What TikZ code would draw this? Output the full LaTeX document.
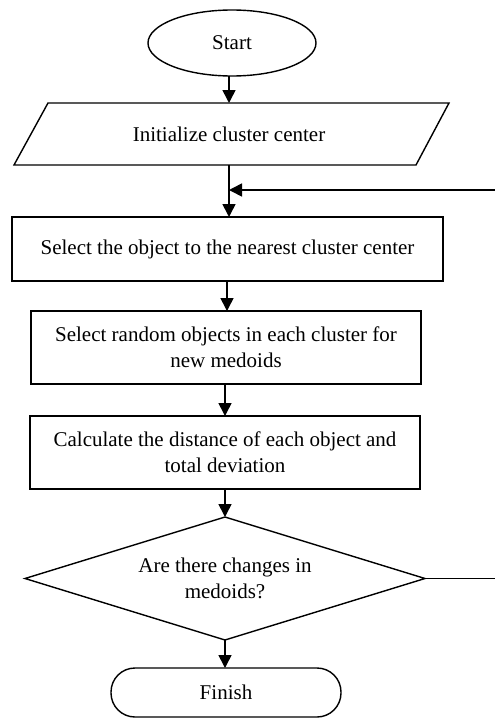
\documentclass[tikz,border=0pt]{standalone}
\usepackage{fontspec}
\setmainfont{Liberation Serif}
\usetikzlibrary{shapes.geometric,arrows.meta}
\begin{document}
\begin{tikzpicture}[x=1pt,y=-1pt,
  every node/.style={font=\fontsize{21}{26}\selectfont, align=center, inner sep=0pt, outer sep=0pt},
  line/.style={line width=1.4pt},
  arr/.style={line width=1.6pt, -{Triangle[length=13pt,width=13pt]}},
  box/.style={draw, line width=1.4pt, rectangle},
]
\useasboundingbox (0,0) rectangle (495,720);
\node[ellipse, draw, line width=1.4pt, minimum width=168pt, minimum height=66pt] (start) at (232,43) {Start};
\node[minimum width=401pt, minimum height=62pt] (init) at (229,134) {Initialize cluster center};
\draw[line, line join=miter] (48,103) -- (449,103) -- (416,165) -- (14,165) -- cycle;
\node[box, minimum width=431pt, minimum height=64pt] (sel) at (227.5,249) {Select the object to the nearest cluster center};
\node[box, minimum width=390pt, minimum height=73pt] (rand) at (226,347.5) {Select random objects in each cluster for\\new medoids};
\node[box, minimum width=390pt, minimum height=73pt] (calc) at (225,452.5) {Calculate the distance of each object and\\total deviation};
\node[minimum width=400pt, minimum height=123pt] (dec) at (225,578.5) {Are there changes in\\medoids?};
\draw[line, line join=miter] (dec.north) -- (dec.east) -- (dec.south) -- (dec.west) -- cycle;
\node[draw, line width=1.4pt, rounded corners=24pt, minimum width=230pt, minimum height=49pt] (fin) at (226,692.5) {Finish};
\coordinate (fbin) at (495,190);
\coordinate (fbout) at (495,578.5);
\draw[arr] (start.south -| 229,0) -- (229,103);
\draw[arr] (229,165) -- (229,217);
\draw[arr] (fbin) -- (229,190);
\draw[arr] (sel.south -| 227,0) -- (rand.north -| 227,0);
\draw[arr] (rand.south -| 225,0) -- (calc.north -| 225,0);
\draw[arr] (calc.south -| 225,0) -- (dec.north);
\draw[arr] (dec.south) -- (fin.north -| dec.south);
\draw[line] (dec.east) -- (fbout);
\end{tikzpicture}
\end{document}
